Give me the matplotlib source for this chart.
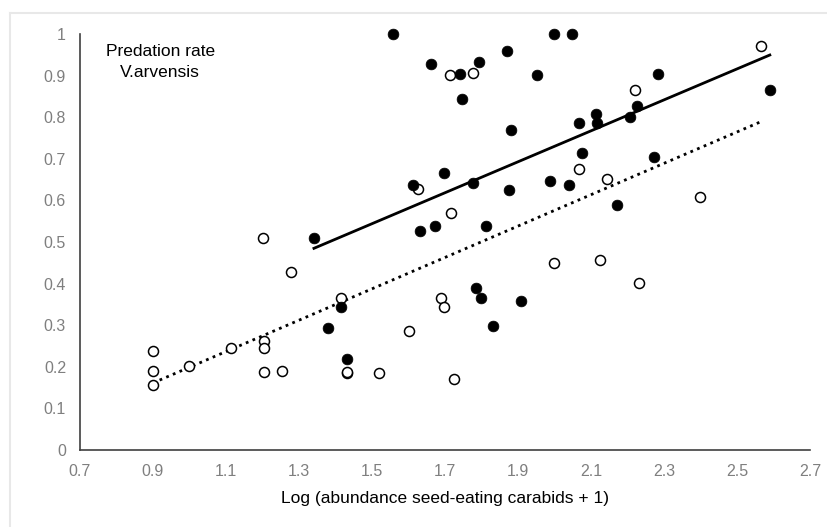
import numpy as np
import matplotlib
matplotlib.use('Agg')
import matplotlib.pyplot as plt
from matplotlib.lines import Line2D

plt.rcParams['font.family'] = ['Liberation Sans', 'DejaVu Sans']

# filled circles (one group) - log abundance vs predation rate
filled_x = [1.557, 2.000, 2.048, 1.662, 1.741, 1.793, 1.869, 1.952, 1.747, 2.284,
            2.590, 2.226, 2.207, 2.114, 2.117, 2.068, 1.881, 2.075, 2.273, 1.698,
            1.612, 1.777, 1.875, 1.987, 2.040, 2.172, 1.632, 1.672, 1.812, 1.341,
            1.785, 1.799, 1.907, 1.831, 1.414, 1.380, 1.431]
filled_y = [1.000, 1.000, 1.000, 0.928, 0.904, 0.933, 0.958, 0.901, 0.843, 0.904,
            0.865, 0.826, 0.801, 0.807, 0.786, 0.786, 0.769, 0.714, 0.704, 0.667,
            0.637, 0.641, 0.624, 0.647, 0.637, 0.589, 0.526, 0.538, 0.538, 0.509,
            0.389, 0.366, 0.358, 0.298, 0.344, 0.294, 0.218]

# open circles (other group)
open_x = [2.566, 1.714, 1.777, 2.221, 2.067, 1.626, 2.143, 2.399, 1.716, 1.999,
          2.125, 2.232, 1.690, 1.698, 1.601, 1.724, 1.202, 1.278, 0.900, 0.900,
          0.900, 0.999, 1.114, 1.203, 1.203, 1.203, 1.254, 1.414, 1.431, 1.431,
          1.518]
open_y = [0.971, 0.901, 0.907, 0.866, 0.676, 0.627, 0.651, 0.609, 0.570, 0.449,
          0.457, 0.401, 0.366, 0.344, 0.287, 0.170, 0.510, 0.428, 0.238, 0.190,
          0.156, 0.202, 0.245, 0.262, 0.245, 0.187, 0.190, 0.365, 0.186, 0.188,
          0.186]

# linear trend lines (slope, intercept)
filled_fit = (0.372, -0.014)
open_fit = (0.377, -0.178)

x_ticks = [0.7, 0.9, 1.1, 1.3, 1.5, 1.7, 1.9, 2.1, 2.3, 2.5, 2.7]
y_ticks = [0, 0.1, 0.2, 0.3, 0.4, 0.5, 0.6, 0.7, 0.8, 0.9, 1]

fig = plt.figure(figsize=(8.27, 5.27), dpi=100)
# light chart-area border (only top and left edges visible in the crop)
fig.add_artist(Line2D([0.012, 1.0], [0.975, 0.975], transform=fig.transFigure,
                      color='#e8e8e8', linewidth=1.5))
fig.add_artist(Line2D([0.012, 0.012], [0.0, 0.975], transform=fig.transFigure,
                      color='#e8e8e8', linewidth=1.5))
ax = fig.add_axes([0.0967, 0.146, 0.8827, 0.7895])

ax.scatter(open_x, open_y, s=52, facecolor='white', edgecolor='black',
           linewidth=1.1, zorder=3, clip_on=False)
ax.scatter(filled_x, filled_y, s=60, facecolor='black', edgecolor='black',
           linewidth=0.5, zorder=4, clip_on=False)

fx = np.array([min(filled_x), max(filled_x)])
ax.plot(fx, filled_fit[0] * fx + filled_fit[1], color='black', linewidth=2, zorder=2)
ox = np.array([min(open_x), max(open_x)])
ax.plot(ox, open_fit[0] * ox + open_fit[1], color='black', linewidth=2,
        linestyle=(0, (1, 1.6)), zorder=2)

ax.set_xlim(0.7, 2.7)
ax.set_ylim(0, 1)
ax.set_xticks(x_ticks)
ax.set_xticklabels([f'{t:g}' for t in x_ticks])
ax.set_yticks(y_ticks)
ax.set_yticklabels([f'{t:g}' for t in y_ticks])
ax.tick_params(length=0, labelsize=11.5, labelcolor='#7f7f7f')
ax.tick_params(axis='x', pad=10)
ax.tick_params(axis='y', pad=10)

for side in ['top', 'right']:
    ax.spines[side].set_visible(False)
for side in ['left', 'bottom']:
    ax.spines[side].set_color('#404040')
    ax.spines[side].set_linewidth(1.2)

ax.set_xlabel('Log (abundance seed-eating carabids + 1)', fontsize=12.5, labelpad=9)
ax.text(0.11, 0.933, 'Predation rate\nV.arvensis', transform=ax.transAxes,
        ha='center', va='center', fontsize=12.5, linespacing=1.45)

fig.savefig('out.png', dpi=100)
